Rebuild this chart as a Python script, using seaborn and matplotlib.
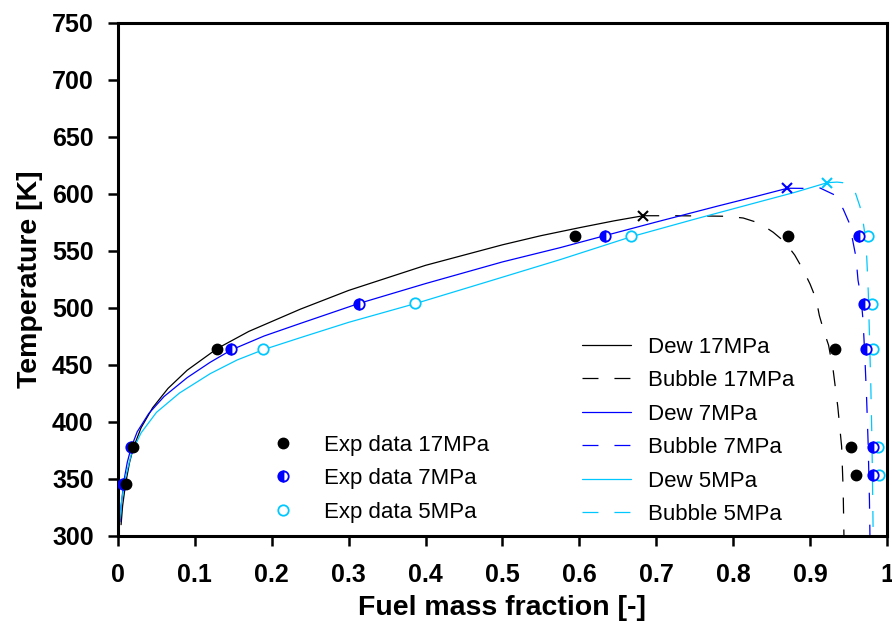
import matplotlib
matplotlib.use("Agg")
import matplotlib.pyplot as plt
import seaborn as sns

# dew / bubble curves (fuel mass fraction, temperature K)
dew17_x = [0.004, 0.006, 0.010, 0.015, 0.020, 0.030, 0.045, 0.065, 0.090, 0.129,
           0.170, 0.237, 0.300, 0.400, 0.500, 0.550, 0.600, 0.645, 0.683]
dew17_T = [309.5, 326, 346, 364, 377, 394.5, 412, 429, 445, 464,
           479, 498.5, 515, 537, 555, 563, 570, 576, 580.5]
bub17_x = [0.683, 0.720, 0.760, 0.792, 0.813, 0.834, 0.852, 0.867, 0.880, 0.891,
           0.900, 0.908, 0.912, 0.918, 0.924, 0.930, 0.936, 0.941, 0.943, 0.944]
bub17_T = [580.5, 580.5, 580.3, 580.0, 578.5, 574.0, 566.0, 557.5, 546.0, 533.0,
           520.5, 507.0, 493.0, 479.0, 467.0, 445.0, 413.0, 378.0, 340.0, 300.0]

dew7_x = [0.0025, 0.004, 0.008, 0.012, 0.017, 0.025, 0.040, 0.060, 0.090, 0.120,
          0.148, 0.190, 0.237, 0.313, 0.400, 0.500, 0.575, 0.633, 0.700, 0.780,
          0.830, 0.8706]
dew7_T = [312, 326, 349, 364, 377, 391, 407, 422, 438.5, 452,
          463, 475, 486, 503.5, 521, 540, 552.5, 563, 575, 589,
          597.5, 604.6]
bub7_x = [0.8706, 0.893, 0.913, 0.932, 0.943, 0.951, 0.9545, 0.9597, 0.9623, 0.9662,
          0.9688, 0.9710, 0.9735, 0.9755, 0.9772, 0.9778]
bub7_T = [604.6, 604.5, 604.8, 598.7, 586.4, 574.0, 562.0, 544.0, 524.0, 509.0,
          489.0, 460.0, 420.0, 380.0, 330.0, 300.0]

dew5_x = [0.0025, 0.005, 0.010, 0.018, 0.030, 0.050, 0.080, 0.120, 0.155, 0.189,
          0.237, 0.300, 0.387, 0.480, 0.575, 0.667, 0.750, 0.830, 0.880, 0.9224]
dew5_T = [315, 332, 352, 373, 390, 408, 425, 442, 454, 463,
          473.5, 487, 503.5, 522.5, 542, 562, 577.5, 592, 601, 609.5]
bub5_x = [0.9224, 0.935, 0.9424, 0.9584, 0.9649, 0.9692, 0.9714, 0.9736, 0.9744, 0.9757,
          0.977, 0.979, 0.9805, 0.9815, 0.982]
bub5_T = [609.5, 610.0, 609.5, 601.6, 588.4, 573.9, 563.6, 544.6, 532.9, 512.5,
          480.0, 430.0, 380.0, 330.0, 300.0]

# critical points
crit_x = [0.683, 0.8706, 0.9224]
crit_T = [580.5, 604.6, 609.5]

# experimental data
exp17_x = [0.0104, 0.0199, 0.129, 0.594, 0.8717, 0.9324, 0.9532, 0.9593]
exp17_T = [345, 378, 464, 563, 563, 464, 378, 353]
exp7_x = [0.007, 0.017, 0.147, 0.3134, 0.633, 0.964, 0.9705, 0.9727, 0.9813, 0.9822]
exp7_T = [345, 378, 464, 503, 563, 563, 503, 464, 378, 353]
exp5_x = [0.1886, 0.386, 0.667, 0.9757, 0.980, 0.9814, 0.9887, 0.990]
exp5_T = [464, 504, 563, 563, 503, 464, 378, 353]

x_ticks = [0, 0.1, 0.2, 0.3, 0.4, 0.5, 0.6, 0.7, 0.8, 0.9, 1.0]
x_tick_labels = ["0", "0.1", "0.2", "0.3", "0.4", "0.5", "0.6", "0.7", "0.8", "0.9", "1"]
y_ticks = [300, 350, 400, 450, 500, 550, 600, 650, 700, 750]

line_labels = ["Dew 17MPa", "Bubble 17MPa", "Dew 7MPa", "Bubble 7MPa", "Dew 5MPa", "Bubble 5MPa"]
exp_labels = ["Exp data 17MPa", "Exp data 7MPa", "Exp data 5MPa"]

BLACK = "#000000"
BLUE = "#0000FF"
CYAN = "#00C8FF"

sns.set_style("ticks")
plt.rcParams["font.family"] = ["Liberation Sans", "DejaVu Sans"]
plt.rcParams["lines.scale_dashes"] = False
plt.rcParams["text.color"] = "black"
plt.rcParams["axes.labelcolor"] = "black"
plt.rcParams["xtick.color"] = "black"
plt.rcParams["ytick.color"] = "black"

fig = plt.figure(figsize=(8.92, 6.26), dpi=100)
ax = fig.add_axes([118 / 892, 1 - 535.5 / 626, 769 / 892, 513 / 626])

dashed = (0, (11.5, 11.5))
curves = [
    (dew17_x, dew17_T, BLACK, "-"),
    (bub17_x, bub17_T, BLACK, dashed),
    (dew7_x, dew7_T, BLUE, "-"),
    (bub7_x, bub7_T, BLUE, dashed),
    (dew5_x, dew5_T, CYAN, "-"),
    (bub5_x, bub5_T, CYAN, dashed),
]
line_handles = []
for xs, ts, col, ls in curves:
    sns.lineplot(x=xs, y=ts, sort=False, estimator=None, color=col,
                 linewidth=0.9, linestyle=ls, ax=ax, zorder=2)
    line_handles.append(ax.lines[-1])

# experimental points: 5MPa under 7MPa under 17MPa
h5, = ax.plot(exp5_x, exp5_T, "o", ms=7.5, mfc="white", mec=CYAN, mew=1.3,
              linestyle="none", zorder=3)
h7, = ax.plot(exp7_x, exp7_T, "o", ms=7.5, fillstyle="left", mfc=BLUE,
              mfcalt="white", mec=BLUE, mew=1.3, linestyle="none", zorder=4)
h17, = ax.plot(exp17_x, exp17_T, "o", ms=7.5, color=BLACK, linestyle="none", zorder=5)

for cx, ct, col in zip(crit_x, crit_T, [BLACK, BLUE, CYAN]):
    ax.plot([cx], [ct], "x", ms=7.5, mew=1.5, color=col, zorder=6)

ax.set_xlim(0, 1)
ax.set_ylim(300, 750)
ax.set_xticks(x_ticks)
ax.set_xticklabels(x_tick_labels)
ax.set_yticks(y_ticks)

for side in ["left", "right", "top", "bottom"]:
    ax.spines[side].set_visible(True)
    ax.spines[side].set_linewidth(2.2)
    ax.spines[side].set_color("black")
ax.tick_params(axis="both", direction="out", length=7.2, width=1.8,
               labelsize=18, colors="black")
ax.tick_params(axis="x", pad=12.5)
ax.tick_params(axis="y", pad=10.3)
ax.tick_params(top=False, right=False)
for lab in ax.get_xticklabels() + ax.get_yticklabels():
    lab.set_fontweight("bold")

ax.set_xlabel("Fuel mass fraction [-]", fontsize=20.5, fontweight="bold", color="black")
ax.set_ylabel("Temperature [K]", fontsize=20.5, fontweight="bold", color="black")
ax.xaxis.set_label_coords(0.5, -0.116)
ax.yaxis.set_label_coords(-0.098, 0.5)

leg_kw = dict(frameon=False, fontsize=16, handlelength=2.2, handletextpad=0.75,
              labelspacing=0.56, borderpad=0, borderaxespad=0, loc="center left",
              labelcolor="black")
leg1 = ax.legend([h17, h7, h5], exp_labels, bbox_to_anchor=(0.1828, 0.111), **leg_kw)
ax.add_artist(leg1)
ax.legend(line_handles, line_labels, bbox_to_anchor=(0.6034, 0.204), **leg_kw)

fig.savefig("out.png", dpi=100)
